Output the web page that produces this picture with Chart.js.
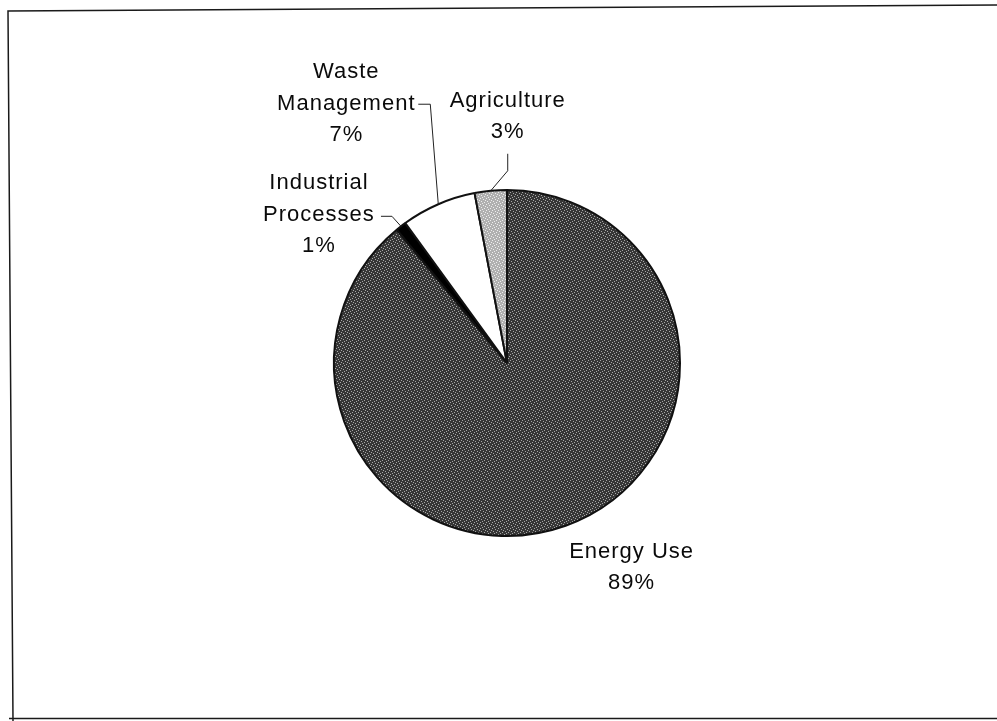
<!DOCTYPE html>
<html>
<head>
<meta charset="utf-8">
<title>Emissions by sector</title>
<script src="https://cdn.jsdelivr.net/npm/chart.js@4.4.0/dist/chart.umd.min.js"></script>
<style>
  html, body { margin: 0; padding: 0; background: #fff; }
  #wrap { width: 997px; height: 721px; position: relative; }
</style>
</head>
<body>
<div id="wrap"><canvas id="pie" width="997" height="721"></canvas></div>
<script>
// ---- data ----
const categories = ["Energy Use", "Industrial Processes", "Waste Management", "Agriculture"];
const shares = [89, 1, 7, 3];
// how each category name is broken over lines next to the pie
const nameLines = [["Energy Use"], ["Industrial", "Processes"], ["Waste", "Management"], ["Agriculture"]];

// ---- stipple fills ----
function stipple(base, dot, cells) {
  const c = document.createElement("canvas");
  c.width = 6; c.height = 6;
  const g = c.getContext("2d");
  g.fillStyle = base;
  g.fillRect(0, 0, 6, 6);
  g.fillStyle = dot;
  cells.forEach(([x, y]) => g.fillRect(x, y, 1, 1));
  return g.createPattern(c, "repeat");
}
const DOTS = [[0,0],[3,1],[1,3],[4,4],[2,5],[5,2]];
const energyFill = stipple("#363636", "#a8a8a8", DOTS);
const agriFill = stipple("#b0b0b0", "#eeeeee", DOTS);

// label placement, relative to where each slice's middle meets the rim
// text: centre of first line; leader: points after the rim point
const labelLayout = [
  { dx: 66, dy: 26, leader: [] },
  { dx: -82, dy: -43, leader: [[-9, -10], [-20, -10]] },
  { dx: -92, dy: -132, leader: [[-8, -100], [-20, -100]] },
  { dx: 17, dy: -90, leader: [[17, -20], [17, -37]] }
];
const LINE_H = 31.5;

// scanned page frame
const framePlugin = {
  id: "frame",
  beforeDraw(chart) {
    const ctx = chart.ctx;
    ctx.save();
    ctx.strokeStyle = "#1a1a1a";
    ctx.lineWidth = 1.5;
    ctx.beginPath();
    ctx.moveTo(13, 721);
    ctx.lineTo(8, 11);
    ctx.lineTo(997, 5);
    ctx.moveTo(9, 718.5);
    ctx.lineTo(997, 718.5);
    ctx.stroke();
    ctx.restore();
  }
};

const labelPlugin = {
  id: "sliceLabels",
  afterDraw(chart) {
    const ctx = chart.ctx;
    const meta = chart.getDatasetMeta(0);
    ctx.save();
    ctx.font = '22px "Liberation Sans", Arial, sans-serif';
    ctx.letterSpacing = "1px";
    ctx.fillStyle = "#0a0a0a";
    ctx.textAlign = "center";
    ctx.textBaseline = "middle";
    ctx.strokeStyle = "#222";
    ctx.lineWidth = 1;
    meta.data.forEach((arc, i) => {
      const mid = (arc.startAngle + arc.endAngle) / 2;
      const px = arc.x + arc.outerRadius * Math.cos(mid);
      const py = arc.y + arc.outerRadius * Math.sin(mid);
      const lay = labelLayout[i];
      if (lay.leader.length) {
        ctx.beginPath();
        ctx.moveTo(px, py);
        lay.leader.forEach(([lx, ly]) => ctx.lineTo(px + lx, py + ly));
        ctx.stroke();
      }
      const lines = nameLines[i].concat([shares[i] + "%"]);
      lines.forEach((t, k) => {
        ctx.fillText(t, px + lay.dx, py + lay.dy + k * LINE_H);
      });
    });
    ctx.restore();
  }
};

new Chart(document.getElementById("pie"), {
  type: "pie",
  data: {
    labels: categories,
    datasets: [{
      data: shares,
      backgroundColor: [energyFill, "#000000", "#ffffff", agriFill],
      borderColor: "#111",
      borderWidth: 2
    }]
  },
  options: {
    responsive: false,
    animation: false,
    devicePixelRatio: 1,
    layout: { padding: { top: 189, bottom: 184, left: 17, right: 0 } },
    plugins: {
      legend: { display: false },
      tooltip: { enabled: false }
    }
  },
  plugins: [framePlugin, labelPlugin]
});
</script>
</body>
</html>
